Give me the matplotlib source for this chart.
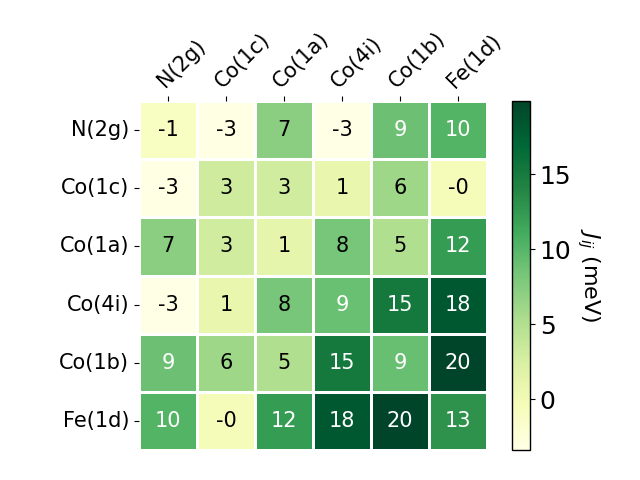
import numpy as np
import matplotlib
matplotlib.use('Agg')
import matplotlib.pyplot as plt
import seaborn as sns

# 位点标签
sites = ['N(2g)', 'Co(1c)', 'Co(1a)', 'Co(4i)', 'Co(1b)', 'Fe(1d)']

# 交换耦合矩阵 J_ij (meV)
row_n2g = [-1.0, -3.3, 7.2, -3.4, 8.8, 10.2]
row_co1c = [-3.3, 3.2, 3.0, 1.0, 6.1, -0.3]
row_co1a = [7.2, 3.0, 1.2, 8.3, 5.1, 12.3]
row_co4i = [-3.4, 1.0, 8.3, 9.0, 15.2, 18.3]
row_co1b = [8.8, 6.1, 5.1, 15.2, 9.1, 19.9]
row_fe1d = [10.2, -0.3, 12.3, 18.3, 19.9, 13.0]

J = np.array([row_n2g, row_co1c, row_co1a, row_co4i, row_co1b, row_fe1d])

fig = plt.figure(figsize=(6.4, 4.8), dpi=100)
ax = fig.add_axes([0.217, 0.0625, 0.544, 0.727])
cax = fig.add_axes([0.80, 0.0625, 0.028, 0.727])

sns.heatmap(J, ax=ax, cbar_ax=cax, cmap='YlGn', annot=True, fmt='.0f',
            annot_kws={'fontsize': 15}, linewidths=2, linecolor='white',
            xticklabels=sites, yticklabels=sites)

# 深色格子用白字，浅色格子用黑字
for t, v in zip(ax.texts, J.flatten()):
    t.set_color('white' if v > 8.5 else 'black')

ax.xaxis.tick_top()
ax.set_xticklabels(sites, rotation=45, ha='left', rotation_mode='anchor', fontsize=15)
ax.set_yticklabels(sites, rotation=0, fontsize=15)

cbar = ax.collections[0].colorbar
cbar.set_ticks([0, 5, 10, 15])
cbar.ax.tick_params(labelsize=18)
cbar.outline.set_visible(True)
cbar.outline.set_edgecolor('black')
cbar.outline.set_linewidth(1)
cbar.set_label(r'$J_{ij}$ (meV)', rotation=270, labelpad=22, fontsize=16)

plt.savefig('out.png', dpi=100)
